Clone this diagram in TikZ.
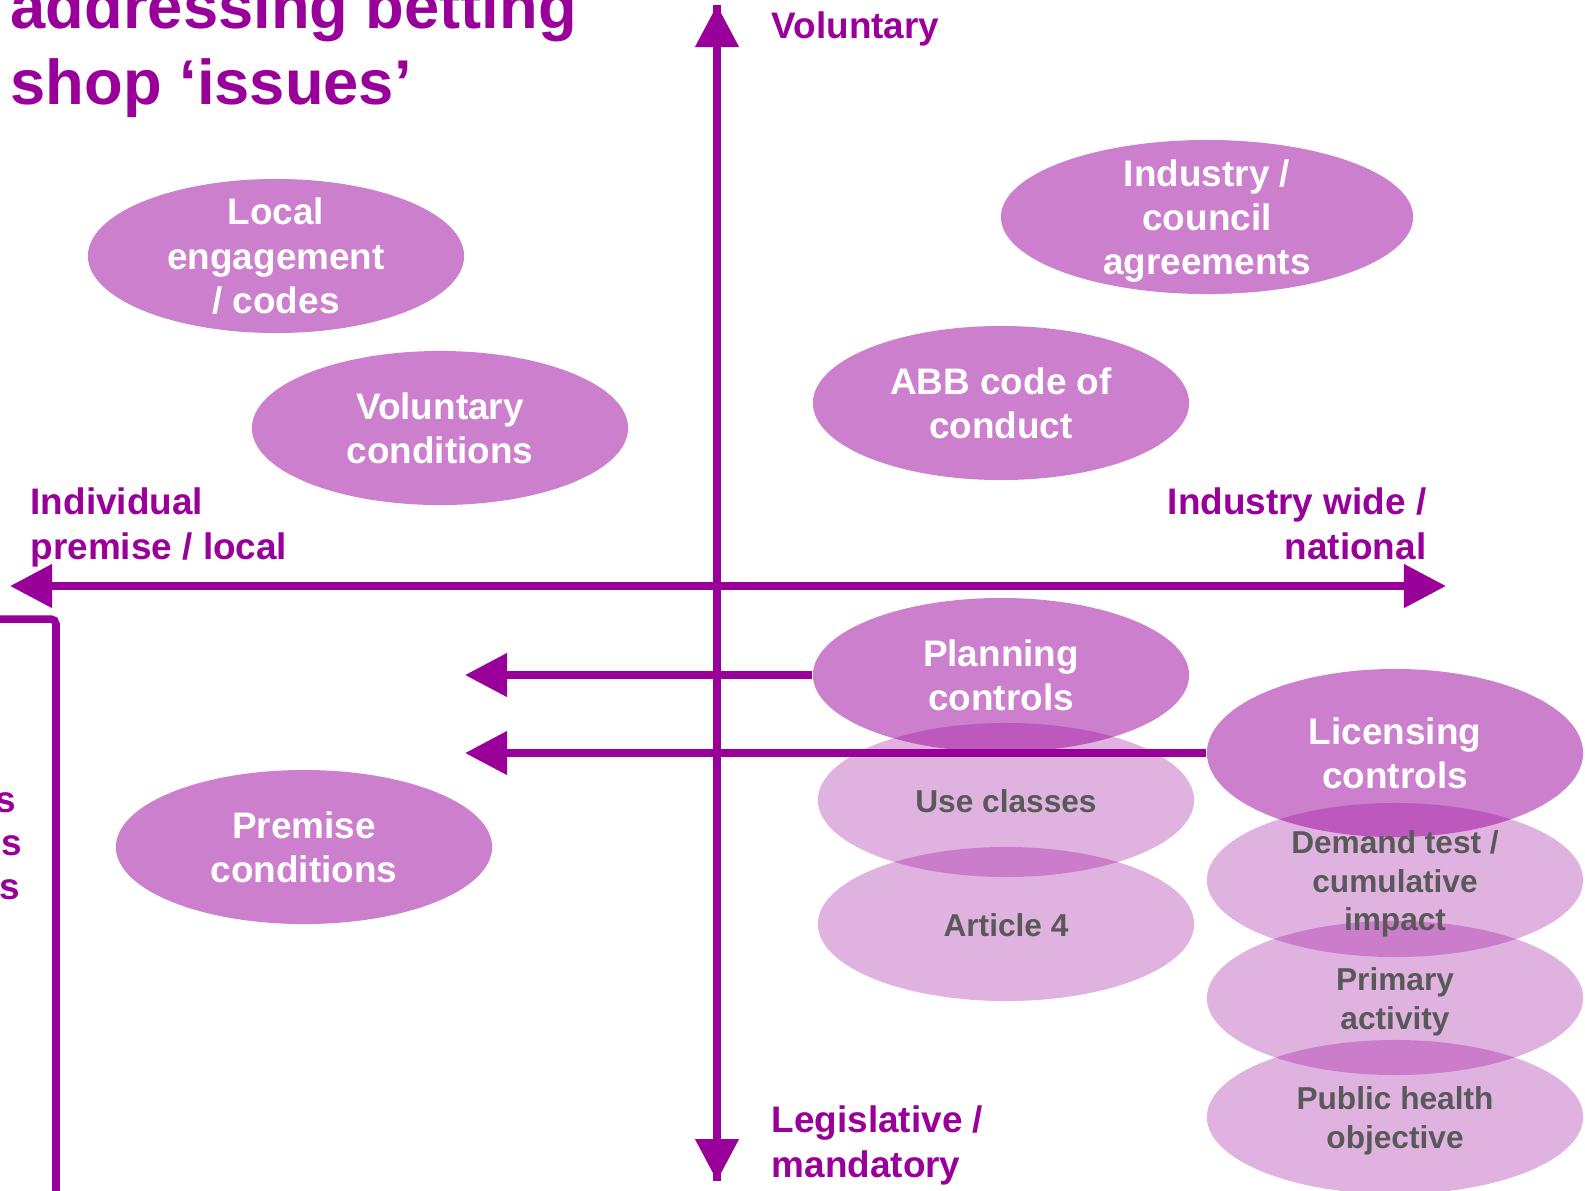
\documentclass[tikz,border=0pt]{standalone}
\usepackage{fontspec}
\setmainfont{Liberation Sans}
\usetikzlibrary{arrows.meta,shapes.geometric}
\definecolor{pur}{HTML}{990099}
\definecolor{gtxt}{HTML}{595959}
\begin{document}
\begin{tikzpicture}[x=0.01cm,y=-0.01cm,
  darkell/.style={ellipse, fill=pur, fill opacity=0.5, draw=none, minimum width=3.76cm, minimum height=1.54cm, inner sep=0pt},
  lightell/.style={ellipse, fill=pur, fill opacity=0.3, draw=none, minimum width=3.76cm, minimum height=1.54cm, inner sep=0pt},
  wtxt/.style={text=white, font=\fontsize{10.5}{12.6}\selectfont\bfseries, align=center, inner sep=0pt},
  gtxtst/.style={text=gtxt, font=\fontsize{9}{11}\selectfont\bfseries, align=center, inner sep=0pt, yshift=-0.04cm},
  axlbl/.style={text=pur, font=\fontsize{10.5}{12.6}\selectfont\bfseries, inner sep=0pt},
  axisline/.style={draw=pur, line width=0.075cm},
  bigtip/.style={-{Triangle[length=0.42cm,width=0.42cm]}},
  bothtips/.style={{Triangle[length=0.42cm,width=0.42cm]}-{Triangle[length=0.42cm,width=0.42cm]}}
]
\useasboundingbox (0,0) rectangle (1585,1190);

% title (base anchor = baseline of last line)
\node[anchor=base west, text=pur, font=\fontsize{18}{21.6}\selectfont\bfseries, align=left, inner sep=0pt] (title) at (10,104) {addressing betting\\shop ‘issues’};

% axis coordinates
\coordinate (vtop) at (717,5);
\coordinate (vbot) at (717,1181);
\coordinate (hleft) at (10,586);
\coordinate (hright) at (1446,586);
\coordinate (ptip) at (465,675);
\coordinate (ltip) at (465,753);
\coordinate (brA) at (0,619);
\coordinate (brB) at (56,619);
\coordinate (brC) at (56,1200);

% ellipses
\node[darkell] (loc) at (276,256) {};
\node[darkell] (volc) at (440,428) {};
\node[darkell, minimum width=4.12cm] (ind) at (1207,217) {};
\node[darkell] (abb) at (1001,403) {};
\node[darkell] (plan) at (1001,675) {};
\node[lightell] (use) at (1006,800) {};
\node[lightell] (art) at (1006,924) {};
\node[darkell, minimum height=1.68cm] (lic) at (1395,753) {};
\node[lightell] (dem) at (1395,880) {};
\node[lightell] (prim) at (1395,998) {};
\node[lightell] (pub) at (1395,1117) {};
\node[darkell] (prem) at (304,847) {};

% ellipse texts
\node[wtxt] (loct) at (loc) {Local\\engagement\\/ codes};
\node[wtxt] (volct) at (volc) {Voluntary\\conditions};
\node[wtxt, yshift=-0.04cm] (indt) at (ind) {Industry /\\council\\agreements};
\node[wtxt] (abbt) at (abb) {ABB code of\\conduct};
\node[wtxt] (plant) at (plan) {Planning\\controls};
\node[wtxt] (lict) at (lic) {Licensing\\controls};
\node[wtxt] (premt) at (prem) {Premise\\conditions};
\node[gtxtst, yshift=0.03cm] (uset) at (use) {Use classes};
\node[gtxtst, yshift=0.03cm] (artt) at (art) {Article 4};
\node[gtxtst] (demt) at (dem) {Demand test /\\cumulative\\impact};
\node[gtxtst] (primt) at (prim) {Primary\\activity};
\node[gtxtst] (pubt) at (pub) {Public health\\objective};

% axes
\draw[axisline, bigtip] (vbot) -- (vtop);
\draw[axisline, bigtip] (vtop) -- (vbot);
\draw[axisline, bothtips] (hleft) -- (hright);
\draw[axisline, bigtip] (plan.west) -- (ptip);
\draw[axisline, bigtip] (lic.west) -- (ltip);
\draw[axisline, rounded corners=0.05cm] (brA) -- (brB) -- (brC);

% axis labels (base anchor = baseline of last line)
\node[axlbl, anchor=base west] (volab) at (771,38) {Voluntary};
\node[axlbl, anchor=base west, align=left] (leglab) at (771,1177) {Legislative /\\mandatory};
\node[axlbl, anchor=base west, align=left] (indlab) at (30,559) {Individual\\premise / local};
\node[axlbl, anchor=base east, align=right] (natlab) at (1427,559) {Industry wide /\\national};

% cut-off texts at left edge
\node[axlbl, anchor=base east] (cut1) at (17,812) {s};
\node[axlbl, anchor=base east] (cut2) at (23,855) {ns};
\node[axlbl, anchor=base east] (cut3) at (21,899) {rs};
\end{tikzpicture}
\end{document}
